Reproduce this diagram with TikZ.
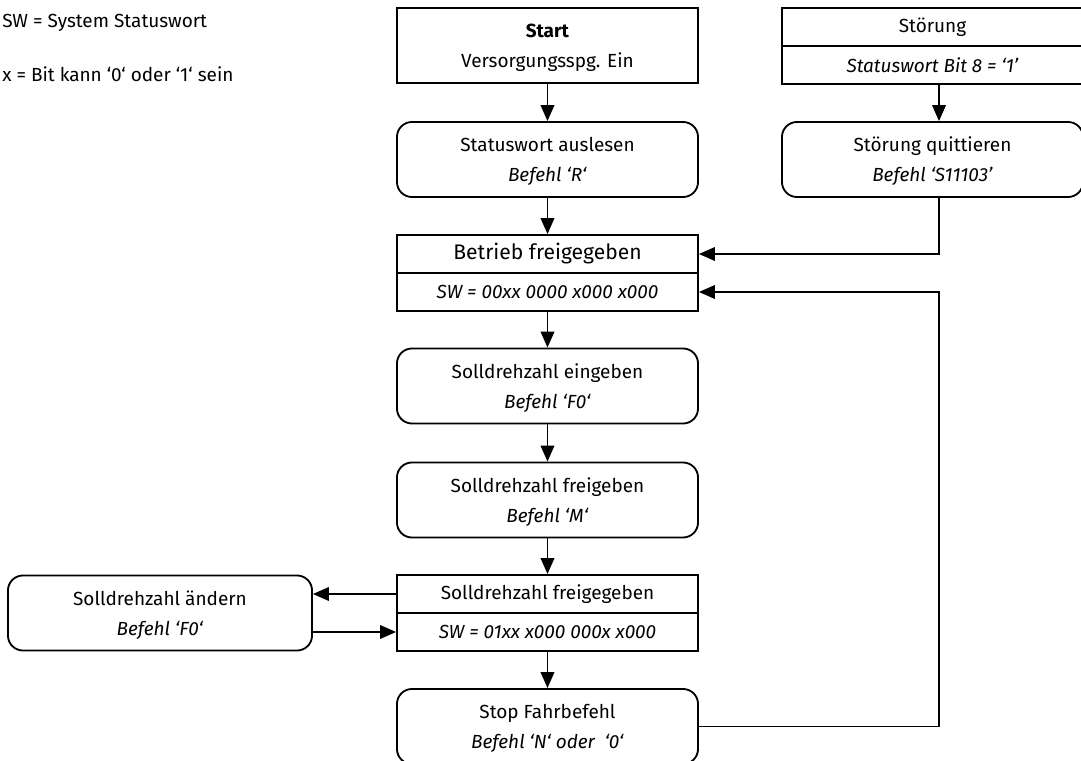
\documentclass[tikz,border=0pt]{standalone}
\usepackage{fontspec}
\setmainfont{Fira Sans}
\usetikzlibrary{arrows.meta,positioning,calc}

\begin{document}
\begin{tikzpicture}[x=0.025cm,y=-0.025cm,
    box/.style={draw,line width=1.3pt,minimum width=7.525cm,minimum height=1.875cm,
        align=center,inner sep=0pt,font=\fontsize{13.5}{21.3}\selectfont},
    lift/.style={text depth=-10pt},
    rbox/.style={box,lift,rounded corners=0.375cm},
    half/.style={box,minimum height=0.95cm},
    legend/.style={anchor=west,inner sep=0pt,font=\fontsize{13.5}{16}\selectfont},
    arr/.style={line width=1.3pt,-{Triangle[length=0.4cm,width=0.34cm]}}]
    \useasboundingbox (0,0) rectangle (1081,761);

    % Legende
    \node[legend] (legsw) at (2,23) {SW = System Statuswort};
    \node[legend] (legx) at (2,74) {x = Bit kann ‘0‘ oder ‘1‘ sein};

    % Hauptspalte
    \def\m{547.5}
    \node[box,lift] (start) at (\m,45.5) {\textbf{Start}\\Versorgungsspg. Ein};
    \node[rbox] (lesen) at (\m,159.5) {Statuswort auslesen\\\textit{Befehl ‘R‘}};
    \node[half,font=\fontsize{15}{18}\selectfont] (betr) at (\m,254) {Betrieb freigegeben};
    \node[half] (betrsw) at (\m,292) {\textit{SW = 00xx 0000 x000 x000}};
    \node[rbox] (eing) at (\m,386) {Solldrehzahl eingeben\\\textit{Befehl ‘F0‘}};
    \node[rbox] (frei) at (\m,500) {Solldrehzahl freigeben\\\textit{Befehl ‘M‘}};
    \node[half] (sfg) at (\m,594) {Solldrehzahl freigegeben};
    \node[half] (sfgsw) at (\m,632) {\textit{SW = 01xx x000 000x x000}};
    \node[rbox] (stop) at (\m,726.5) {Stop Fahrbefehl\\\textit{Befehl ‘N‘ oder~ ‘0‘}};

    % Stoerung
    \def\r{932.5}
    \node[half] (stoer) at (\r,27) {Störung};
    \node[half] (stoersw) at (\r,65) {\textit{Statuswort Bit 8 = ‘1’}};
    \node[rbox] (quit) at (\r,159.5) {Störung quittieren\\\textit{Befehl ‘S11103’}};
    \coordinate (rx) at (939,0);

    % Sollwert aendern
    \node[rbox,minimum width=7.6cm] (aend) at (160,613) {Solldrehzahl ändern\\\textit{Befehl ‘F0‘}};

    \draw[arr] (start) -- (lesen);
    \draw[arr] (lesen) -- (betr);
    \draw[arr] (betrsw) -- (eing);
    \draw[arr] (eing) -- (frei);
    \draw[arr] (frei) -- (sfg);
    \draw[arr] (sfgsw) -- (stop);
    \draw[arr] (stoersw.south -| rx) -- (quit.north -| rx);
    \draw[arr] (quit.south -| rx) |- (betr.east);
    \draw[arr] (stop.east) -| (rx |- betrsw.east) -- (betrsw.east);
    \draw[arr] (sfg.west) -- (sfg.west -| aend.east);
    \draw[arr] (aend.east |- sfgsw.west) -- (sfgsw.west);
\end{tikzpicture}
\end{document}
